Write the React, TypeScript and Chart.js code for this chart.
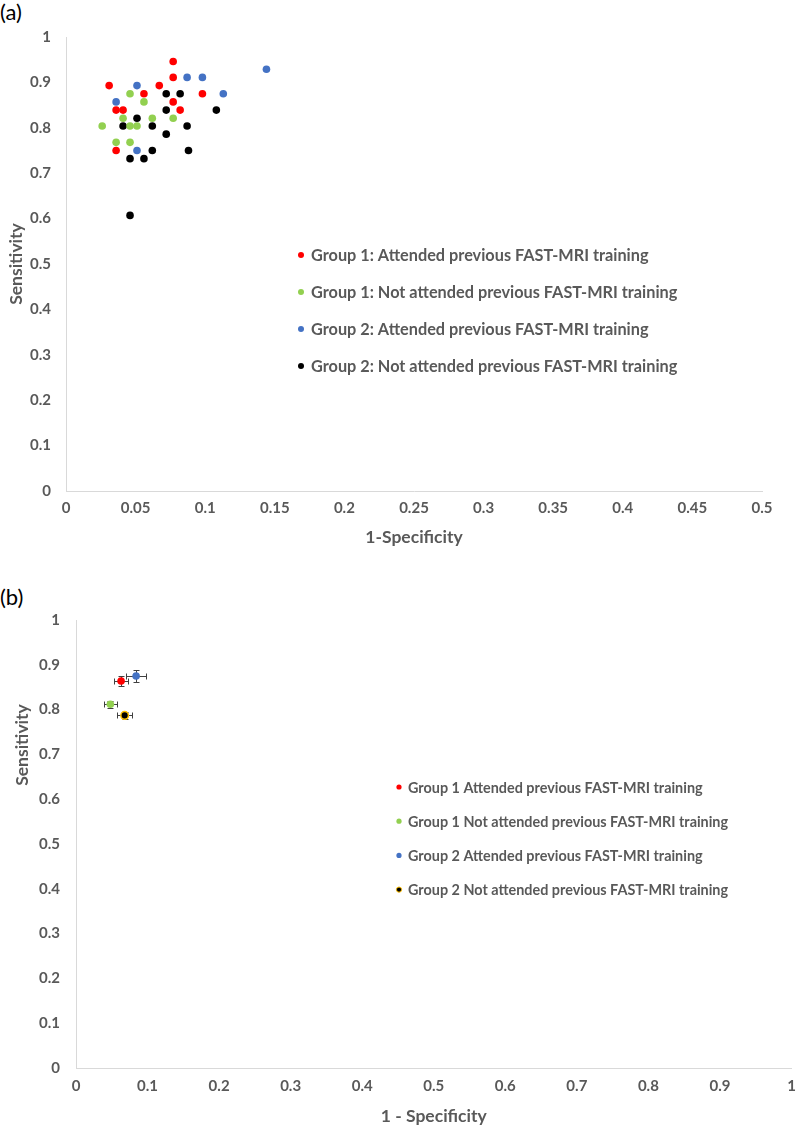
import React, { useEffect, useRef } from "react";
import { Chart, registerables } from "chart.js";

Chart.register(...registerables);

const FONT = "Lato, 'Open Sans', sans-serif";
const GRAY = "#595959";
const AXIS = "#D9D9D9";

// ---------- Panel (a) data ----------
const A_LABELS = [
  "Group 1: Attended previous FAST-MRI training",
  "Group 1: Not attended previous FAST-MRI training",
  "Group 2: Attended previous FAST-MRI training",
  "Group 2: Not attended previous FAST-MRI training",
];
const A_G1_ATT_X = [0.031, 0.067, 0.056, 0.036, 0.041, 0.036, 0.077, 0.077, 0.098, 0.077, 0.082];
const A_G1_ATT_Y = [0.893, 0.893, 0.875, 0.839, 0.839, 0.75, 0.946, 0.911, 0.875, 0.857, 0.839];
const A_G1_NOT_X = [0.046, 0.056, 0.041, 0.062, 0.026, 0.046, 0.051, 0.036, 0.046, 0.077];
const A_G1_NOT_Y = [0.875, 0.857, 0.821, 0.821, 0.804, 0.804, 0.804, 0.768, 0.768, 0.821];
const A_G2_ATT_X = [0.051, 0.036, 0.051, 0.087, 0.098, 0.144, 0.113];
const A_G2_ATT_Y = [0.893, 0.857, 0.75, 0.911, 0.911, 0.929, 0.875];
const A_G2_NOT_X = [0.072, 0.072, 0.051, 0.041, 0.062, 0.072, 0.062, 0.046, 0.056, 0.082, 0.108, 0.087, 0.088, 0.046];
const A_G2_NOT_Y = [0.875, 0.839, 0.821, 0.804, 0.804, 0.786, 0.75, 0.732, 0.732, 0.875, 0.839, 0.804, 0.75, 0.607];
const A_X_TICKS = [0, 0.05, 0.1, 0.15, 0.2, 0.25, 0.3, 0.35, 0.4, 0.45, 0.5];
const A_Y_TICKS = [0, 0.1, 0.2, 0.3, 0.4, 0.5, 0.6, 0.7, 0.8, 0.9, 1];

// ---------- Panel (b) data ----------
const B_LABELS = [
  "Group 1 Attended previous FAST-MRI training",
  "Group 1 Not attended previous FAST-MRI training",
  "Group 2 Attended previous FAST-MRI training",
  "Group 2 Not attended previous FAST-MRI training",
];
const B_X = [0.063, 0.048, 0.084, 0.068];
const B_Y = [0.864, 0.812, 0.875, 0.787];
const B_X_ERR = [0.01, 0.009, 0.0144, 0.0105];
const B_Y_ERR = [0.0104, 0.008, 0.014, 0.008];
const B_X_TICKS = [0, 0.1, 0.2, 0.3, 0.4, 0.5, 0.6, 0.7, 0.8, 0.9, 1];
const B_Y_TICKS = [0, 0.1, 0.2, 0.3, 0.4, 0.5, 0.6, 0.7, 0.8, 0.9, 1];

const COLORS = ["#FF0000", "#92D050", "#4472C4", "#000000"];
const B_BORDERS = ["#FF0000", "#92D050", "#4472C4", "#FFC000"];

const zip = (xs: number[], ys: number[]) => xs.map((x, i) => ({ x, y: ys[i] }));

function makeLegendPlugin(cfg: { x: number; textX: number; y: number; gap: number; size: number; r: number }) {
  return {
    id: "customLegend",
    afterDatasetsDraw(chart: any) {
      const ctx = chart.ctx;
      ctx.save();
      ctx.font = `bold ${cfg.size}px ${FONT}`;
      ctx.textBaseline = "middle";
      ctx.textAlign = "left";
      chart.data.datasets.forEach((ds: any, i: number) => {
        const y = cfg.y + i * cfg.gap;
        ctx.beginPath();
        ctx.arc(cfg.x, y, cfg.r, 0, Math.PI * 2);
        ctx.fillStyle = ds.backgroundColor;
        ctx.fill();
        if (ds.borderWidth && ds.borderColor !== ds.backgroundColor) {
          ctx.lineWidth = 1;
          ctx.strokeStyle = ds.borderColor;
          ctx.stroke();
        }
        ctx.fillStyle = GRAY;
        ctx.fillText(ds.label, cfg.textX, y + 1);
      });
      ctx.restore();
    },
  };
}

// Axis title placed off-centre (as in the original figure)
function makeYTitlePlugin(text: string, x: number, y: number, size: number) {
  return {
    id: "yTitle",
    afterDraw(chart: any) {
      const ctx = chart.ctx;
      ctx.save();
      ctx.translate(x, y);
      ctx.rotate(-Math.PI / 2);
      ctx.font = `bold ${size}px ${FONT}`;
      ctx.fillStyle = GRAY;
      ctx.textAlign = "center";
      ctx.textBaseline = "middle";
      ctx.fillText(text, 0, 0);
      ctx.restore();
    },
  };
}

const errorBarPlugin = {
  id: "errorBars",
  beforeDatasetsDraw(chart: any) {
    const { ctx, scales } = chart;
    const xs = scales.x;
    const ys = scales.y;
    ctx.save();
    ctx.strokeStyle = "#404040";
    ctx.lineWidth = 1;
    chart.data.datasets.forEach((ds: any) => {
      const e = ds.errorBars;
      if (!e) return;
      ds.data.forEach((p: any) => {
        const px = Math.round(xs.getPixelForValue(p.x)) + 0.5;
        const py = Math.round(ys.getPixelForValue(p.y)) + 0.5;
        const x0 = Math.round(xs.getPixelForValue(p.x - e.x)) + 0.5;
        const x1 = Math.round(xs.getPixelForValue(p.x + e.x)) + 0.5;
        const y0 = Math.round(ys.getPixelForValue(p.y - e.y)) + 0.5;
        const y1 = Math.round(ys.getPixelForValue(p.y + e.y)) + 0.5;
        const c = 3;
        ctx.beginPath();
        ctx.moveTo(x0, py); ctx.lineTo(x1, py);
        ctx.moveTo(x0, py - c); ctx.lineTo(x0, py + c);
        ctx.moveTo(x1, py - c); ctx.lineTo(x1, py + c);
        ctx.moveTo(px, y0); ctx.lineTo(px, y1);
        ctx.moveTo(px - c, y0); ctx.lineTo(px + c, y0);
        ctx.moveTo(px - c, y1); ctx.lineTo(px + c, y1);
        ctx.stroke();
      });
    });
    ctx.restore();
  },
};

function axisOptions(opts: {
  min: number; max: number; ticks: number[]; title: string; axis: "x" | "y";
  size: number; tickPad: number; titlePad: any; tickSize: number; titleSize: number; showTitle?: boolean;
}) {
  return {
    type: "linear",
    min: opts.min,
    max: opts.max,
    afterBuildTicks: (scale: any) => {
      scale.ticks = opts.ticks.map((v) => ({ value: v }));
    },
    afterFit: (scale: any) => {
      if (opts.axis === "x") {
        scale.height = opts.size;
        scale.paddingLeft = 0;
        scale.paddingRight = 0;
      } else {
        scale.width = opts.size;
        scale.paddingTop = 0;
        scale.paddingBottom = 0;
      }
    },
    grid: { display: false, drawTicks: false },
    border: { display: true, color: AXIS, width: 1 },
    ticks: {
      color: GRAY,
      font: { family: FONT, size: opts.tickSize, weight: "bold" },
      padding: opts.tickPad,
      maxRotation: 0,
      autoSkip: false,
      callback: (v: number) => String(Math.round(v * 1000) / 1000),
    },
    title: {
      display: opts.showTitle !== false,
      text: opts.title,
      color: GRAY,
      font: { family: FONT, size: opts.titleSize, weight: "bold" },
      padding: opts.titlePad,
    },
  };
}

function ChartA() {
  const ref = useRef<HTMLCanvasElement>(null);
  useEffect(() => {
    const xs = [A_G1_ATT_X, A_G1_NOT_X, A_G2_ATT_X, A_G2_NOT_X];
    const ys = [A_G1_ATT_Y, A_G1_NOT_Y, A_G2_ATT_Y, A_G2_NOT_Y];
    const chart = new Chart(ref.current as HTMLCanvasElement, {
      type: "scatter",
      data: {
        datasets: A_LABELS.map((label, i) => ({
          label,
          data: zip(xs[i], ys[i]),
          backgroundColor: COLORS[i],
          borderColor: COLORS[i],
          borderWidth: 0,
          pointRadius: 3.8,
        })),
      },
      options: {
        animation: false,
        responsive: false,
        layout: { padding: { top: 37, right: 35, left: 0, bottom: 0 } },
        plugins: { legend: { display: false }, tooltip: { enabled: false } },
        scales: {
          x: axisOptions({ min: 0, max: 0.5, ticks: A_X_TICKS, title: "1-Specificity", axis: "x", size: 69, tickPad: 8, titlePad: { top: 0, bottom: 12 }, tickSize: 15, titleSize: 17.5 }),
          y: axisOptions({ min: 0, max: 1, ticks: A_Y_TICKS, title: "Sensitivity", axis: "y", size: 66, tickPad: 15, titlePad: { top: 6, bottom: 0 }, tickSize: 15, titleSize: 17.5 }),
        } as any,
      },
      plugins: [makeLegendPlugin({ x: 301, textX: 311, y: 255, gap: 37, size: 16.3, r: 3 })],
    } as any);
    return () => chart.destroy();
  }, []);
  return <canvas ref={ref} width={797} height={560} style={{ position: "absolute", left: 0, top: 0 }} />;
}

function ChartB() {
  const ref = useRef<HTMLCanvasElement>(null);
  useEffect(() => {
    const chart = new Chart(ref.current as HTMLCanvasElement, {
      type: "scatter",
      data: {
        datasets: B_LABELS.map((label, i) => ({
          label,
          data: [{ x: B_X[i], y: B_Y[i] }],
          errorBars: { x: B_X_ERR[i], y: B_Y_ERR[i] },
          backgroundColor: COLORS[i],
          borderColor: B_BORDERS[i],
          borderWidth: i === 3 ? 1.5 : 0,
          pointRadius: 3.8,
        })),
      },
      options: {
        animation: false,
        responsive: false,
        layout: { padding: { top: 40, right: 5, left: 0, bottom: 0 } },
        plugins: { legend: { display: false }, tooltip: { enabled: false } },
        scales: {
          x: axisOptions({ min: 0, max: 1, ticks: B_X_TICKS, title: "1 - Specificity", axis: "x", size: 60, tickPad: 9, titlePad: { top: 0, bottom: 1 }, tickSize: 15, titleSize: 17.5 }),
          y: axisOptions({ min: 0, max: 1, ticks: B_Y_TICKS, title: "Sensitivity", axis: "y", size: 76, tickPad: 16, titlePad: { top: 11, bottom: 0 }, tickSize: 15, titleSize: 17.5, showTitle: false }),
        } as any,
      },
      plugins: [
        errorBarPlugin,
        makeLegendPlugin({ x: 399, textX: 408, y: 207, gap: 34.2, size: 14.4, r: 2.6 }),
        makeYTitlePlugin("Sensitivity", 22, 165, 17.5),
      ],
    } as any);
    return () => chart.destroy();
  }, []);
  return <canvas ref={ref} width={797} height={548} style={{ position: "absolute", left: 0, top: 580 }} />;
}

export default function App() {
  const label: React.CSSProperties = {
    position: "absolute",
    left: 0,
    fontFamily: FONT,
    fontSize: 22,
    lineHeight: "24px",
    color: "#000",
  };
  return (
    <div style={{ position: "absolute", left: 0, top: 0, width: 797, height: 1128, background: "#fff", overflow: "hidden" }}>
      <div style={{ ...label, top: 0 }}>(a)</div>
      <ChartA />
      <div style={{ ...label, top: 585 }}>(b)</div>
      <ChartB />
    </div>
  );
}
